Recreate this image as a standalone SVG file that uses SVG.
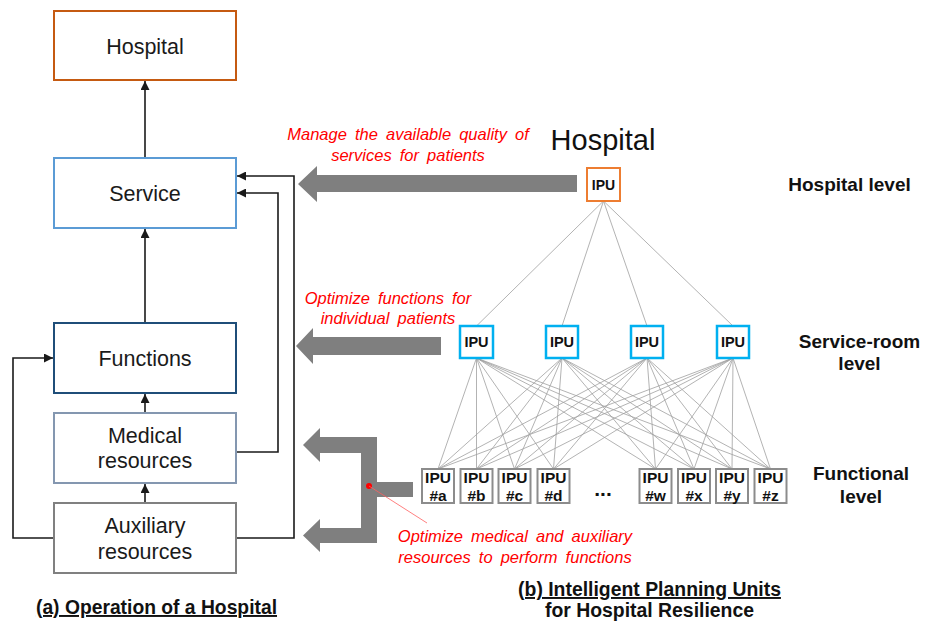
<svg xmlns="http://www.w3.org/2000/svg" width="925" height="621" viewBox="0 0 925 621">
<style>
.box{fill:#fff;stroke-width:2}
.lbl{font-family:"Liberation Sans",Arial,sans-serif;font-size:21.5px;fill:#1a1a1a;text-anchor:middle}
.red{font-family:"Liberation Sans",Arial,sans-serif;font-size:16.5px;font-style:italic;fill:#ff0000;text-anchor:middle;word-spacing:3.5px}
.bold{font-family:"Liberation Sans",Arial,sans-serif;font-weight:bold;fill:#111;text-anchor:middle}
.conn{fill:none;stroke:#1a1a1a;stroke-width:1.6}
.net{stroke:#a0a0a0;stroke-width:0.8;fill:none}
.big{fill:#7f7f7f}
.ipu{fill:#fff}
</style>
<defs>
<marker id="ah" viewBox="0 0 10 10" refX="10" refY="5" markerWidth="9" markerHeight="9" markerUnits="userSpaceOnUse" orient="auto">
<path d="M0,0 L10,5 L0,10 z" fill="#1a1a1a"/>
</marker>
</defs>

<g id="connectors">
<line class="conn" x1="145" y1="157" x2="145" y2="81" marker-end="url(#ah)"/>
<line class="conn" x1="145" y1="322" x2="145" y2="229" marker-end="url(#ah)"/>
<line class="conn" x1="145" y1="413" x2="145" y2="394" marker-end="url(#ah)"/>
<line class="conn" x1="145" y1="502" x2="145" y2="484" marker-end="url(#ah)"/>
<polyline class="conn" points="54,538 13,538 13,358 53,358" marker-end="url(#ah)"/>
<polyline class="conn" points="237,452 278,452 278,193 237,193" marker-end="url(#ah)"/>
<polyline class="conn" points="237,538 294,538 294,176 237,176" marker-end="url(#ah)"/>
<!-- big gray arrows -->
<path class="big" d="M298,184 L317,166 L317,175 L577,175 L577,192 L317,192 L317,202 Z"/>
<path class="big" d="M296,346 L313,328 L313,337 L441,337 L441,355 L313,355 L313,364 Z"/>
<path class="big" d="M303,445 L320,428 L320,437 L377,437 L377,482 L413,482 L413,497 L377,497 L377,543 L320,543 L320,552 L303,535.5 L320,519 L320,528 L361,528 L361,453 L320,453 L320,462 Z"/>
<circle cx="369" cy="486" r="3" fill="#ff0000"/>
<line x1="369" y1="486" x2="427" y2="523" stroke="#ff6060" stroke-width="0.8"/>
<!-- network lines -->
<g class="net">
<line x1="603.5" y1="201" x2="476.5" y2="326"/>
<line x1="603.5" y1="201" x2="562" y2="326"/>
<line x1="603.5" y1="201" x2="647" y2="326"/>
<line x1="603.5" y1="201" x2="733" y2="326"/>
<line x1="476.5" y1="358" x2="438" y2="469"/>
<line x1="476.5" y1="358" x2="476.5" y2="469"/>
<line x1="476.5" y1="358" x2="514.5" y2="469"/>
<line x1="476.5" y1="358" x2="553.5" y2="469"/>
<line x1="476.5" y1="358" x2="655.5" y2="469"/>
<line x1="476.5" y1="358" x2="694" y2="469"/>
<line x1="476.5" y1="358" x2="732" y2="469"/>
<line x1="476.5" y1="358" x2="770.5" y2="469"/>
<line x1="562" y1="358" x2="438" y2="469"/>
<line x1="562" y1="358" x2="476.5" y2="469"/>
<line x1="562" y1="358" x2="514.5" y2="469"/>
<line x1="562" y1="358" x2="553.5" y2="469"/>
<line x1="562" y1="358" x2="655.5" y2="469"/>
<line x1="562" y1="358" x2="694" y2="469"/>
<line x1="562" y1="358" x2="732" y2="469"/>
<line x1="562" y1="358" x2="770.5" y2="469"/>
<line x1="647" y1="358" x2="438" y2="469"/>
<line x1="647" y1="358" x2="476.5" y2="469"/>
<line x1="647" y1="358" x2="514.5" y2="469"/>
<line x1="647" y1="358" x2="553.5" y2="469"/>
<line x1="647" y1="358" x2="655.5" y2="469"/>
<line x1="647" y1="358" x2="694" y2="469"/>
<line x1="647" y1="358" x2="732" y2="469"/>
<line x1="647" y1="358" x2="770.5" y2="469"/>
<line x1="733" y1="358" x2="438" y2="469"/>
<line x1="733" y1="358" x2="476.5" y2="469"/>
<line x1="733" y1="358" x2="514.5" y2="469"/>
<line x1="733" y1="358" x2="553.5" y2="469"/>
<line x1="733" y1="358" x2="655.5" y2="469"/>
<line x1="733" y1="358" x2="694" y2="469"/>
<line x1="733" y1="358" x2="732" y2="469"/>
<line x1="733" y1="358" x2="770.5" y2="469"/>
</g>
</g>

<!-- left nodes -->
<g id="hospital">
<rect class="box" x="54" y="11" width="182" height="69" stroke="#c55a11"/>
<text class="lbl" x="145" y="53.5">Hospital</text>
</g>
<g id="service">
<rect class="box" x="54" y="158" width="182" height="70" stroke="#5b9bd5"/>
<text class="lbl" x="145" y="201">Service</text>
</g>
<g id="functions">
<rect class="box" x="54" y="323" width="182" height="70" stroke="#1f4e79"/>
<text class="lbl" x="145" y="366">Functions</text>
</g>
<g id="medical">
<rect class="box" x="54" y="413" width="182" height="70" stroke="#8497b0"/>
<text class="lbl" x="145" y="443">Medical</text>
<text class="lbl" x="145" y="468">resources</text>
</g>
<g id="auxiliary">
<rect class="box" x="54" y="503" width="182" height="70" stroke="#808080"/>
<text class="lbl" x="145" y="533">Auxiliary</text>
<text class="lbl" x="145" y="559">resources</text>
</g>

<!-- red annotations -->
<g id="notes">
<text class="red" x="408" y="140">Manage the available quality of</text>
<text class="red" x="408" y="161">services for patients</text>
<text class="red" x="388" y="304">Optimize functions for</text>
<text class="red" x="388" y="324">individual patients</text>
<text class="red" x="515" y="542">Optimize medical and auxiliary</text>
<text class="red" x="515" y="563">resources to perform functions</text>
</g>

<!-- IPU network -->
<text x="603" y="150" font-family="Liberation Sans,Arial,sans-serif" font-size="29" fill="#111" text-anchor="middle">Hospital</text>
<g id="ipu-hospital">
<rect class="ipu" x="587" y="168" width="33" height="33" stroke="#ed7d31" stroke-width="2"/>
<text class="bold" x="603.5" y="189.5" font-size="14">IPU</text>
</g>
<g id="ipu-s1"><rect class="ipu" x="460" y="326" width="33" height="32" stroke="#00b0f0" stroke-width="2.5"/><text class="bold" x="476.5" y="347" font-size="14.5">IPU</text></g>
<g id="ipu-s2"><rect class="ipu" x="546" y="326" width="32" height="32" stroke="#00b0f0" stroke-width="2.5"/><text class="bold" x="562" y="347" font-size="14.5">IPU</text></g>
<g id="ipu-s3"><rect class="ipu" x="631" y="326" width="32" height="32" stroke="#00b0f0" stroke-width="2.5"/><text class="bold" x="647" y="347" font-size="14.5">IPU</text></g>
<g id="ipu-s4"><rect class="ipu" x="717" y="326" width="32" height="32" stroke="#00b0f0" stroke-width="2.5"/><text class="bold" x="733" y="347" font-size="14.5">IPU</text></g>

<g id="ipu-fa"><rect class="ipu" x="422" y="469" width="32" height="34" stroke="#8c8c8c" stroke-width="2"/><text class="bold" x="438" y="483" font-size="15.5">IPU</text><text class="bold" x="438" y="501" font-size="15.5">#a</text></g>
<g id="ipu-fb"><rect class="ipu" x="460.5" y="469" width="32" height="34" stroke="#8c8c8c" stroke-width="2"/><text class="bold" x="476.5" y="483" font-size="15.5">IPU</text><text class="bold" x="476.5" y="501" font-size="15.5">#b</text></g>
<g id="ipu-fc"><rect class="ipu" x="498.5" y="469" width="32" height="34" stroke="#8c8c8c" stroke-width="2"/><text class="bold" x="514.5" y="483" font-size="15.5">IPU</text><text class="bold" x="514.5" y="501" font-size="15.5">#c</text></g>
<g id="ipu-fd"><rect class="ipu" x="537.5" y="469" width="32" height="34" stroke="#8c8c8c" stroke-width="2"/><text class="bold" x="553.5" y="483" font-size="15.5">IPU</text><text class="bold" x="553.5" y="501" font-size="15.5">#d</text></g>
<text class="bold" x="603" y="496" font-size="21">...</text>
<g id="ipu-fw"><rect class="ipu" x="639.5" y="469" width="32" height="34" stroke="#8c8c8c" stroke-width="2"/><text class="bold" x="655.5" y="483" font-size="15.5">IPU</text><text class="bold" x="655.5" y="501" font-size="15.5">#w</text></g>
<g id="ipu-fx"><rect class="ipu" x="678" y="469" width="32" height="34" stroke="#8c8c8c" stroke-width="2"/><text class="bold" x="694" y="483" font-size="15.5">IPU</text><text class="bold" x="694" y="501" font-size="15.5">#x</text></g>
<g id="ipu-fy"><rect class="ipu" x="716" y="469" width="32" height="34" stroke="#8c8c8c" stroke-width="2"/><text class="bold" x="732" y="483" font-size="15.5">IPU</text><text class="bold" x="732" y="501" font-size="15.5">#y</text></g>
<g id="ipu-fz"><rect class="ipu" x="754.5" y="469" width="32" height="34" stroke="#8c8c8c" stroke-width="2"/><text class="bold" x="770.5" y="483" font-size="15.5">IPU</text><text class="bold" x="770.5" y="501" font-size="15.5">#z</text></g>

<!-- level labels -->
<g id="levels">
<text class="bold" x="849.5" y="191" font-size="19">Hospital level</text>
<text class="bold" x="859.5" y="348" font-size="19">Service-room</text>
<text class="bold" x="859.5" y="370" font-size="19">level</text>
<text class="bold" x="861" y="480" font-size="19">Functional</text>
<text class="bold" x="861" y="503" font-size="19">level</text>
</g>

<!-- captions -->
<g id="captions">
<text class="bold" x="156.5" y="614" font-size="19.3" text-decoration="underline">(a) Operation of a Hospital</text>
<text class="bold" x="649.5" y="596" font-size="19.4" text-decoration="underline">(b) Intelligent Planning Units</text>
<text class="bold" x="649.5" y="617" font-size="19.4">for Hospital Resilience</text>
</g>
</svg>
